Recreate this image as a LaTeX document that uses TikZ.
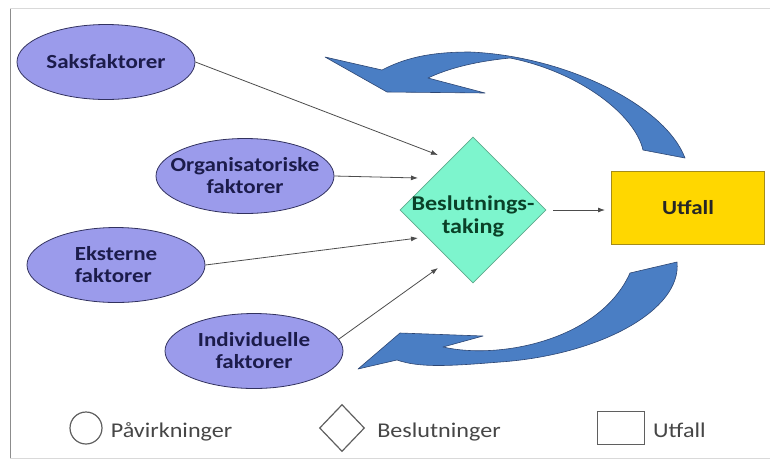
\documentclass[tikz,border=0pt]{standalone}
\usepackage{fontspec}
\setmainfont{Carlito}[FakeStretch=1.15]
\usetikzlibrary{shapes.geometric,arrows.meta,calc}
\definecolor{factorfill}{RGB}{155,155,235}
\definecolor{factorline}{RGB}{50,50,95}
\definecolor{factortext}{RGB}{28,28,75}
\definecolor{decfill}{RGB}{125,245,205}
\definecolor{decline}{RGB}{95,170,140}
\definecolor{dectext}{RGB}{10,65,40}
\definecolor{utfill}{RGB}{255,215,0}
\definecolor{utline}{RGB}{165,140,25}
\definecolor{flowblue}{RGB}{74,126,196}
\definecolor{flowline}{RGB}{45,70,115}
\definecolor{legline}{RGB}{95,95,95}
\definecolor{legtxt}{RGB}{70,70,70}

\begin{document}
\begin{tikzpicture}[x=1pt,y=-1pt,
  factor/.style={ellipse,draw=factorline,fill=factorfill,line width=0.8pt,
    minimum width=178pt,minimum height=75pt,inner xsep=-18pt,inner ysep=-4pt,
    align=center,font=\fontsize{20}{22}\selectfont\bfseries,text=factortext},
  decision/.style={diamond,draw=decline,fill=decfill,line width=0.8pt,
    minimum width=146pt,minimum height=146pt,inner sep=0pt},
  dectxt/.style={inner sep=0pt,align=center,
    font=\fontsize{21}{23}\selectfont\bfseries,text=dectext},
  outcome/.style={rectangle,draw=utline,fill=utfill,line width=1pt,
    minimum width=153pt,minimum height=73pt,inner sep=0pt,
    font=\fontsize{20}{22}\selectfont\bfseries,text=black!85},
  feed/.style={line width=0.8pt,draw=black!70,-{Latex[length=7pt,width=5pt]}},
  backflow/.style={fill=flowblue,draw=flowline,line width=0.6pt,line join=round},
  legshape/.style={draw=legline,line width=1.2pt,inner sep=0pt},
  legtext/.style={inner sep=0pt,anchor=base west,
    font=\fontsize{21}{23}\selectfont,text=legtxt}]
\useasboundingbox (0,0) rectangle (770,459);
\draw[black!45,line width=0.8pt] (10,8) -- (10,458);
\draw[black!15,line width=0.8pt] (10,8) -- (770,8);
\draw[black!15,line width=0.8pt] (10,458) -- (770,458);

\node[factor] (saks) at (106,62) {Saksfaktorer};
\node[factor] (org) at (245,176) {Organisatoriske\\faktorer};
\node[factor,align=left] (eks) at (116,265) {Eksterne\\faktorer};
\node[factor] (ind) at (254,351) {Individuelle\\faktorer};
\node[decision] (dec) at (473,210) {};
\node[dectxt] (dectitle) at ($(dec)+(0,6)$) {Beslutnings-\\taking};
\node[outcome] (utf) at (688,208) {Utfall};

\draw[feed] (saks.east) -- ($(dec)+(-35,-55)$);
\draw[feed] (org.east) -- ($(dec)+(-55,-32)$);
\draw[feed] (eks.east) -- ($(dec)+(-55,28)$);
\draw[feed] (ind.8) -- ($(dec)+(-35,58)$);
\draw[feed,shorten <=7pt,shorten >=6pt] (dec.east) -- (dec.east -| utf.west);

\path[backflow] (325,57) -- (382,70) .. controls (405,58) and (430,52) .. (470,52)
  .. controls (565,56) and (665,105) .. (685,158) -- (643,150)
  .. controls (635,115) and (580,72) .. (510,58)
  .. controls (470,62) and (445,70) .. (428,78) -- (485,93) -- (387,92) -- cycle;
\path[backflow] (358,369) -- (400,333) -- (483,336) -- (443,347)
  .. controls (500,360) and (600,340) .. (630,273) -- (677,262)
  .. controls (682,310) and (600,355) .. (500,362)
  .. controls (450,366) and (420,368) .. (397,360) -- cycle;

\node[legshape,circle,minimum size=32pt] (lgcirc) at (86,428) {};
\node[legtext] (lgcirctext) at ($(lgcirc.east)+(8,9)$) {Påvirkninger};
\node[legshape,diamond,minimum width=45pt,minimum height=47pt] (lgdia) at (342,428) {};
\node[legtext] (lgdiatext) at ($(lgdia.east)+(12,9)$) {Beslutninger};
\node[legshape,rectangle,minimum width=47pt,minimum height=33pt,line width=1pt] (lgrect) at (621,428) {};
\node[legtext] (lgrecttext) at ($(lgrect.east)+(8,9)$) {Utfall};
\end{tikzpicture}
\end{document}
